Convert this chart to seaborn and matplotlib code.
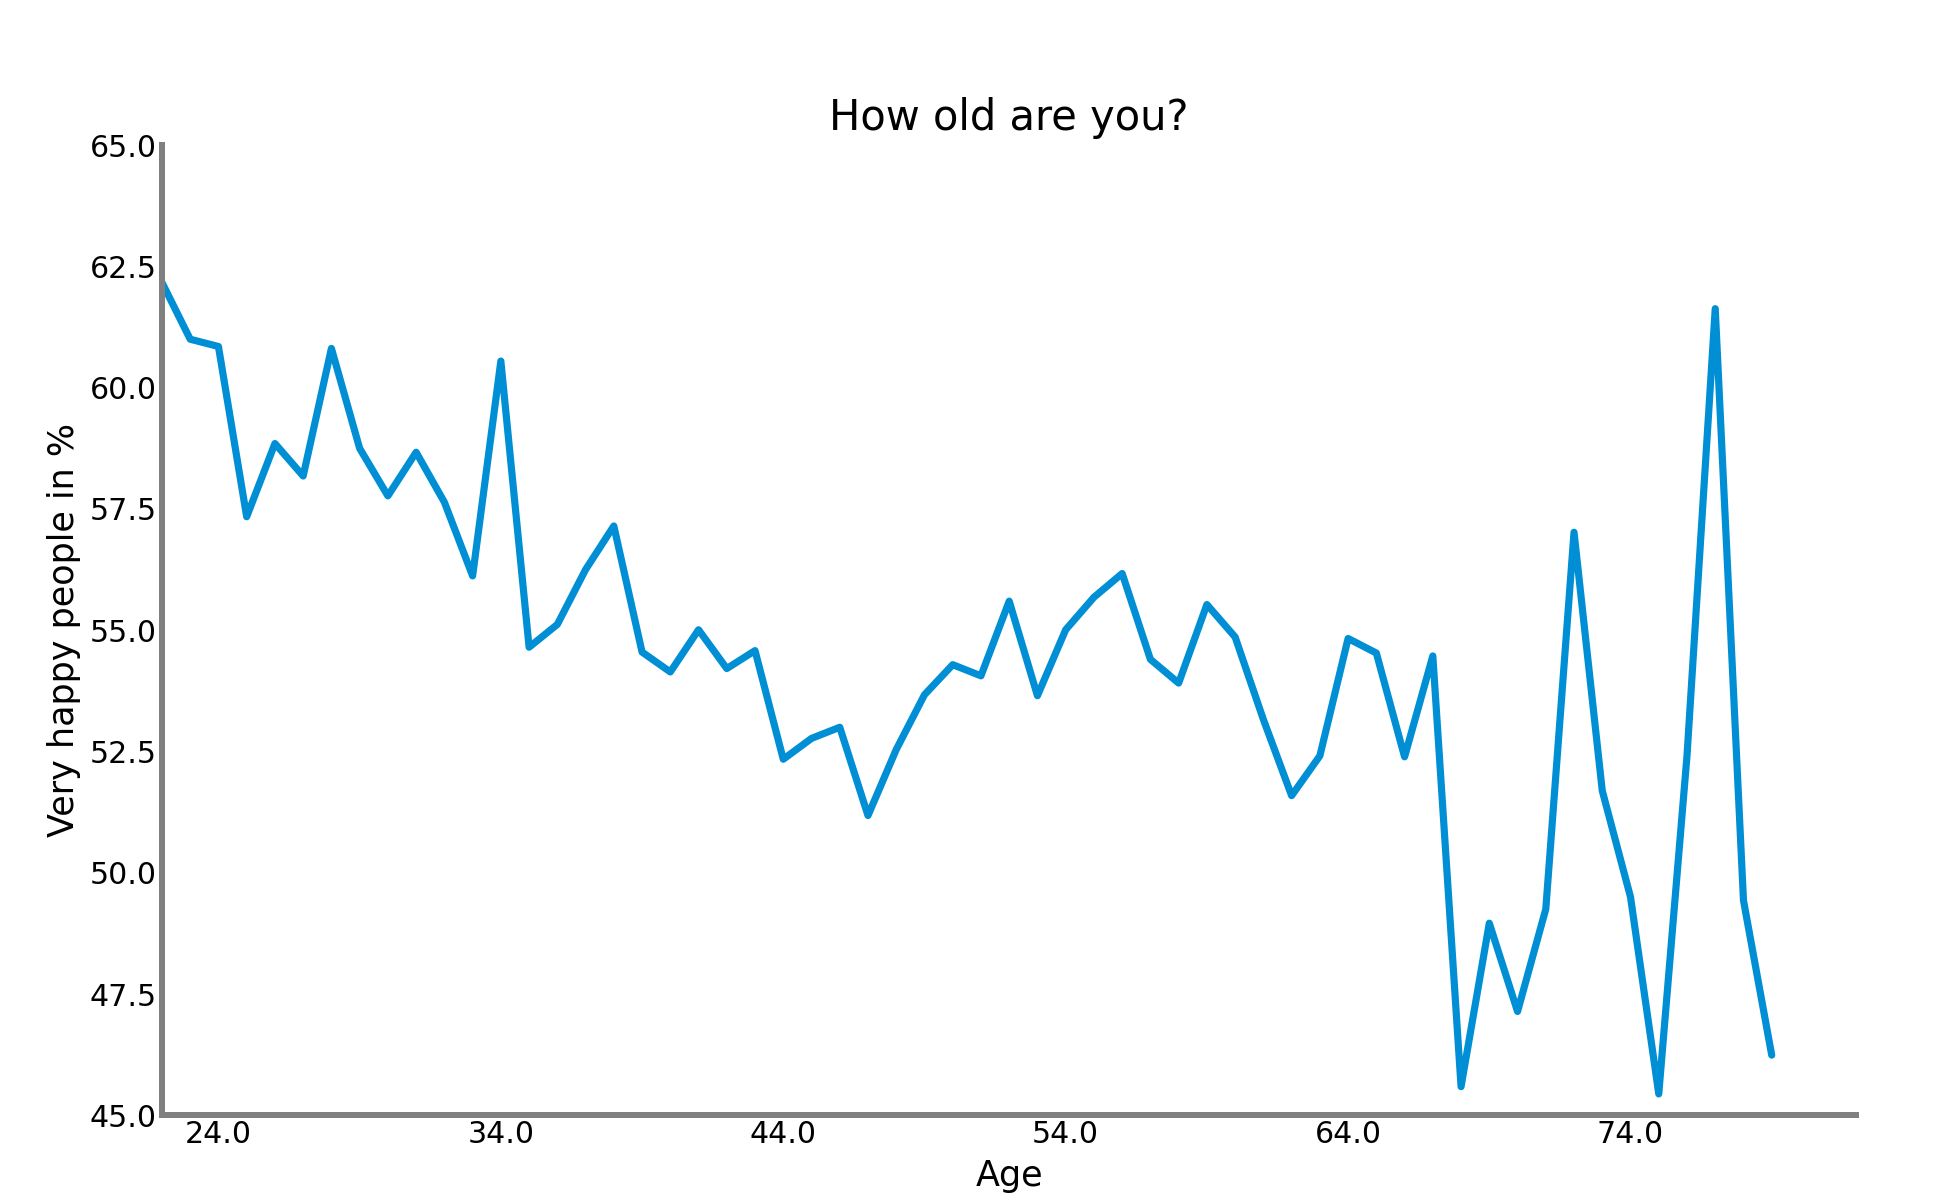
import seaborn as sns
import matplotlib.pyplot as plt
import pandas as pd

ages = list(range(22, 80))
happy = [
    62.17, 61.0, 60.85, 57.34, 58.85, 58.18, 60.81, 58.75, 57.77, 58.67,
    57.64, 56.12, 60.55, 54.65, 55.12, 56.25, 57.15, 54.55, 54.14, 55.01,
    54.21, 54.58, 52.34, 52.77, 53.0, 51.18, 52.54, 53.67, 54.29, 54.06,
    55.6, 53.65, 55.01, 55.68, 56.17, 54.4, 53.91, 55.53, 54.86, 53.16,
    51.59, 52.41, 54.83, 54.53, 52.39, 54.47, 45.59, 48.96, 47.14, 49.25,
    57.02, 51.69, 49.5, 45.44, 52.41, 61.63, 49.43, 46.24,
]
xticks = [24, 34, 44, 54, 64, 74]
yticks = [45.0, 47.5, 50.0, 52.5, 55.0, 57.5, 60.0, 62.5, 65.0]

data = pd.DataFrame({"Age": ages, "happy": happy})

sns.set_style("white")
plt.rcParams["font.family"] = ["DejaVu Sans"]
plt.rcParams["text.color"] = "black"
plt.rcParams["axes.labelcolor"] = "black"
plt.rcParams["xtick.color"] = "black"
plt.rcParams["ytick.color"] = "black"

fig = plt.figure(figsize=(16.3, 10), dpi=120)
ax = fig.add_axes([0.0828, 0.0706, 0.8663, 0.8084])

sns.lineplot(data=data, x="Age", y="happy", color="#008fd5", linewidth=4.3, ax=ax)

ax.set_xlim(22, 82)
ax.set_ylim(45, 65)
ax.set_xticks(xticks)
ax.set_xticklabels([f"{t:.1f}" for t in xticks])
ax.set_yticks(yticks)
ax.set_yticklabels([f"{t:.1f}" for t in yticks])
ax.tick_params(length=0, labelsize=18, pad=3)

for s in ["top", "right"]:
    ax.spines[s].set_visible(False)
for s in ["left", "bottom"]:
    ax.spines[s].set_color("gray")
    ax.spines[s].set_linewidth(3.6)

ax.set_title("How old are you?", fontsize=25, pad=9)
ax.set_xlabel("Age", fontsize=21, labelpad=6)
ax.set_ylabel("Very happy people in %", fontsize=21, labelpad=5)

plt.savefig("out.png", dpi=120)
